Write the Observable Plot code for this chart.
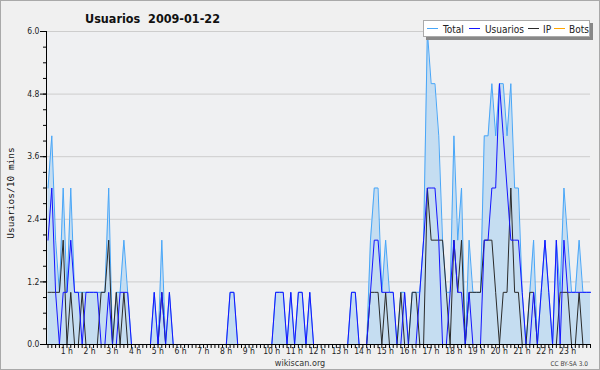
<!DOCTYPE html>
<html>
<head>
<meta charset="utf-8">
<script src="https://cdn.jsdelivr.net/npm/d3@7"></script>
<script src="https://cdn.jsdelivr.net/npm/@observablehq/plot@0.6"></script>
<style>
  html,body{margin:0;padding:0;background:#f0f0f0;}
  #chart{position:relative;width:600px;height:370px;background:#f0f0f0;overflow:hidden;}
  #chart svg{position:absolute;left:0;top:0;}
  #border{position:absolute;left:0;top:0;width:600px;height:370px;box-sizing:border-box;border:1px solid #a9a9a9;pointer-events:none;}
</style>
</head>
<body>
<div id="chart"><div id="border"></div></div>
<script>
// 10-minute slots of the day (0 = 00:00 ... 143 = 23:50)
const slot = d3.range(144);

const total = [
  3,4,2,1,3,1,3,1,1,1,
  1,1,1,1,1,1,3,0,1,1,
  2,1,0,0,0,0,0,0,1,0,
  2,0,1,0,0,0,0,0,0,0,
  0,0,0,0,0,0,0,0,1,1,
  0,0,0,0,0,0,0,0,0,0,
  1,1,1,0,1,0,1,1,0,1,
  0,0,0,0,0,0,0,0,0,0,
  1,1,0,0,0,2,3,3,1,2,
  1,1,0,1,1,0,1,1,1,2,
  6,5,5,4,2,1,1,4,2,3,
  0,2,1,1,1,4,4,5,4,5,
  5,4,5,3,3,1,0,1,2,0,
  1,2,1,0,2,1,3,2,1,1,
  2,1,1,1
];
const usuarios = [
  2,3,1,0,1,1,2,1,1,0,
  1,1,1,1,0,0,1,0,0,1,
  1,1,0,0,0,0,0,0,1,0,
  1,0,1,0,0,0,0,0,0,0,
  0,0,0,0,0,0,0,0,1,1,
  0,0,0,0,0,0,0,0,0,0,
  1,1,1,0,1,0,1,1,0,1,
  0,0,0,0,0,0,0,0,0,0,
  1,1,0,0,0,1,2,2,1,1,
  1,1,0,0,1,0,0,0,1,2,
  3,3,3,2,0,0,1,2,1,1,
  0,1,0,0,0,2,2,3,3,5,
  4,3,2,2,2,1,0,0,1,0,
  1,2,1,0,2,0,2,1,1,1,
  1,1,1,1
];
const ip = [
  1,1,1,1,2,0,1,0,0,1,
  0,0,0,0,1,1,2,0,1,0,
  1,0,0,0,0,0,0,0,0,0,
  1,0,0,0,0,0,0,0,0,0,
  0,0,0,0,0,0,0,0,0,0,
  0,0,0,0,0,0,0,0,0,0,
  0,0,0,0,0,0,0,0,0,0,
  0,0,0,0,0,0,0,0,0,0,
  0,0,0,0,0,1,1,1,0,1,
  0,0,0,1,0,0,1,1,0,0,
  3,2,2,2,2,1,0,2,1,2,
  0,1,1,1,1,2,2,2,1,0,
  1,1,3,1,1,0,0,1,1,0,
  0,0,0,0,0,1,1,1,0,0,
  1,0,0,0
];
const bots = [
  0,0,0,0,0,0,0,0,0,0,
  0,0,0,0,0,0,0,0,0,0,
  0,0,0,0,0,0,0,0,0,0,
  0,0,0,0,0,0,0,0,0,0,
  0,0,0,0,0,0,0,0,0,0,
  0,0,0,0,0,0,0,0,0,0,
  0,0,0,0,0,0,0,0,0,0,
  0,0,0,0,0,0,0,0,0,0,
  0,0,0,0,0,0,0,0,0,0,
  0,0,0,0,0,0,0,0,0,0,
  0,0,0,0,0,0,0,0,0,0,
  0,0,0,0,0,0,0,0,0,0,
  0,0,0,0,0,0,0,0,0,0,
  0,0,0,0,0,0,0,0,0,0,
  0,0,0,0
];

const yTicks = [0, 1.2, 2.4, 3.6, 4.8, 6.0];
const yMinor = d3.range(0, 6.001, 0.3);
const hourLabels = ["1 h","2 h","3 h","4 h","5 h","6 h","7 h","8 h","9 h","10 h","11 h","12 h",
  "13 h","14 h","15 h","16 h","17 h","18 h","19 h","20 h","21 h","22 h","23 h"];
const hourSlots = hourLabels.map((_, k) => (k + 1) * 6);
const seriesNames = ["Total", "Usuarios", "IP", "Bots"];
const seriesColors = ["#48a6f8", "#1414ff", "#2a2a2a", "#ffa500"];
const fillColor = "#c5ddf1";

const data = slot.map((s, k) => ({s, total: total[k], usuarios: usuarios[k], ip: ip[k], bots: bots[k]}));

const font = '"DejaVu Sans Condensed","DejaVu Sans",sans-serif';
const x0 = -0.4;

const plot = Plot.plot({
  width: 600, height: 370,
  marginLeft: 46, marginRight: 10, marginTop: 31, marginBottom: 26,
  style: {background: "transparent", fontFamily: font, fontSize: "8.5px", color: "#000", overflow: "visible"},
  x: {domain: [x0, 143], axis: null, label: null},
  y: {domain: [0, 6], axis: null, label: null},
  marks: [
    Plot.frame({fill: "#eff0f2", stroke: null}),
    Plot.ruleY(yTicks.slice(1), {stroke: "#cdcdcd"}),
    Plot.areaY(data, {x: "s", y: "total", fill: fillColor}),
    Plot.line(data, {x: "s", y: "bots", stroke: seriesColors[3], strokeWidth: 1}),
    Plot.line(data, {x: "s", y: "total", stroke: seriesColors[0], strokeWidth: 1}),
    Plot.line(data, {x: "s", y: "ip", stroke: seriesColors[2], strokeWidth: 1}),
    Plot.line(data, {x: "s", y: "usuarios", stroke: seriesColors[1], strokeWidth: 1}),
    Plot.axisY(yMinor, {tickSize: 3, tickFormat: () => "", label: null}),
    Plot.axisY(yTicks, {tickSize: 6, tickPadding: 1, tickFormat: d => d.toFixed(1), label: null, fill: "#222"}),
    Plot.axisX(slot, {tickSize: 4, tickFormat: () => "", label: null}),
    Plot.axisX(hourSlots, {tickSize: 0, tickPadding: 3.5, tickFormat: d => hourLabels[d / 6 - 1], dx: -4, label: null, fill: "#222"}),
    Plot.ruleX([x0], {y1: 0, y2: 6, stroke: "#000"}),
    Plot.ruleY([0], {stroke: "#000"})
  ]
});

const chart = document.getElementById("chart");
chart.insertBefore(plot, document.getElementById("border"));

const ov = d3.select(chart).append("svg")
  .attr("width", 600).attr("height", 370)
  .style("position", "absolute").style("left", 0).style("top", 0);

ov.append("text").attr("x", 85).attr("y", 22.5)
  .attr("font-family", font).attr("font-weight", "bold").attr("font-size", 12.5)
  .style("white-space", "pre").attr("fill", "#111")
  .text("Usuarios  2009-01-22");

ov.append("text").attr("transform", "translate(13.5,193) rotate(-90)")
  .attr("text-anchor", "middle").attr("font-family", '"DejaVu Sans Mono",monospace')
  .attr("font-size", 9.5).attr("fill", "#111").text("Usuarios/10 mins");

ov.append("text").attr("x", 300).attr("y", 366).attr("text-anchor", "middle")
  .attr("font-family", font).attr("font-size", 9).attr("fill", "#333").text("wikiscan.org");
ov.append("text").attr("x", 588).attr("y", 366).attr("text-anchor", "end")
  .attr("font-family", font).attr("font-size", 6.5).attr("fill", "#444").text("CC BY-SA 3.0");

// legend
const lg = ov.append("g");
lg.append("rect").attr("x", 426).attr("y", 23).attr("width", 167).attr("height", 17).attr("fill", "#888");
lg.append("rect").attr("x", 423.5).attr("y", 20.5).attr("width", 166).attr("height", 16).attr("fill", "#fff").attr("stroke", "#aaa");
const swX = [427, 469, 528, 554];
const txX = [443, 485, 543, 569];
seriesNames.forEach((n, k) => {
  lg.append("line").attr("x1", swX[k]).attr("x2", swX[k] + 11).attr("y1", 28.5).attr("y2", 28.5)
    .attr("stroke", seriesColors[k]).attr("stroke-width", 1);
  lg.append("text").attr("x", txX[k]).attr("y", 32.5).attr("font-family", font)
    .attr("font-size", 10).attr("fill", "#222").text(n);
});
</script>
</body>
</html>
